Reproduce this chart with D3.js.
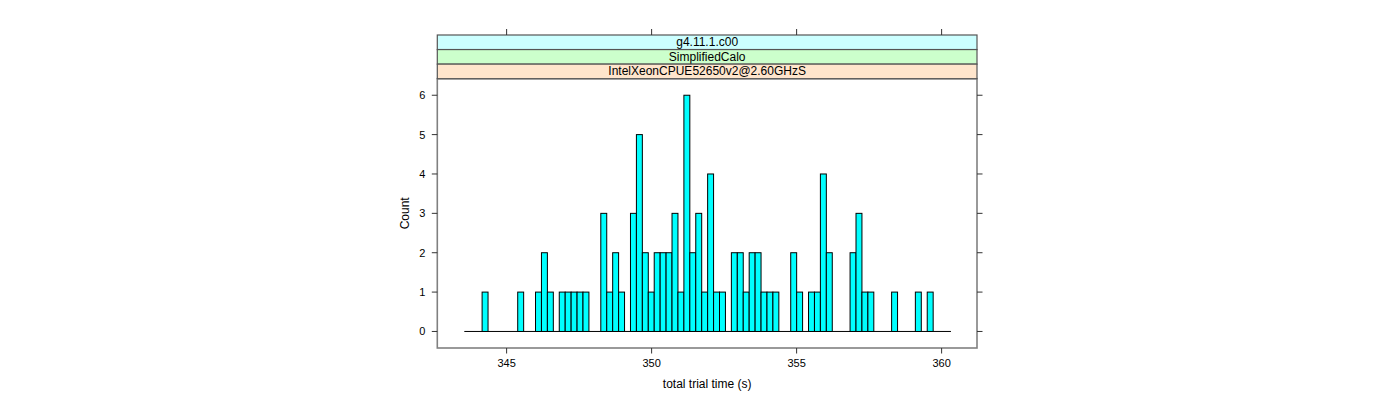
<!DOCTYPE html>
<html>
<head>
<meta charset="utf-8">
<script src="https://cdn.jsdelivr.net/npm/d3@7"></script>
<style>
  html, body { margin: 0; padding: 0; background: #fff; }
  svg { display: block; font-family: "Liberation Sans", Arial, Helvetica, sans-serif; }
</style>
</head>
<body>
<script>
// ---- data ----
const binStart = 343.541;      // first histogram break (s)
const binWidth = 0.20465;      // histogram bin width (s)
const counts = [
  0,0,0,1,0,0,0,0,0,1,
  0,0,1,2,1,0,1,1,1,1,
  1,0,0,3,1,2,1,0,3,5,
  2,1,2,2,2,3,1,6,2,3,
  1,4,1,1,0,2,2,1,2,2,
  1,1,1,0,0,2,1,0,1,1,
  4,2,0,0,0,2,3,1,1,0,
  0,0,1,0,0,0,1,0,1,0,
  0,0
];
const xTicks = [345, 350, 355, 360];
const yTicks = [0, 1, 2, 3, 4, 5, 6];
const stripLabels = ["g4.11.1.c00", "SimplifiedCalo", "IntelXeonCPUE52650v2@2.60GHzS"];
const stripColors = ["#ccffff", "#ccffcc", "#ffe5cc"];
const xTitle = "total trial time (s)";
const yTitle = "Count";
const xDomain = [342.61, 361.22];
const yDomain = [-0.42, 6.42];

// ---- layout ----
const W = 1400, H = 400;
const panel = { left: 437.3, right: 977, top: 78.7, bottom: 348 };
const stripTop = 35, stripH = (panel.top - stripTop) / stripLabels.length;

const svg = d3.select("body").append("svg").attr("width", W).attr("height", H);
svg.append("rect").attr("width", W).attr("height", H).attr("fill", "#fff");

const x = d3.scaleLinear().domain(xDomain).range([panel.left, panel.right]);
const y = d3.scaleLinear().domain(yDomain).range([panel.bottom, panel.top]);

const bins = counts.map((c, i) => ({ x0: binStart + i * binWidth, x1: binStart + (i + 1) * binWidth, n: c }));

// baseline (zero-height bars)
svg.append("line")
  .attr("x1", x(bins[0].x0)).attr("x2", x(bins[bins.length - 1].x1))
  .attr("y1", y(0)).attr("y2", y(0))
  .attr("stroke", "#000").attr("stroke-width", 1);

// bars
svg.append("g").selectAll("rect")
  .data(bins.filter(d => d.n > 0))
  .join("rect")
  .attr("x", d => x(d.x0))
  .attr("width", d => x(d.x1) - x(d.x0))
  .attr("y", d => y(d.n))
  .attr("height", d => y(0) - y(d.n))
  .attr("fill", "#00ffff")
  .attr("stroke", "#000")
  .attr("stroke-width", 1);

// panel border
svg.append("rect")
  .attr("x", panel.left).attr("y", panel.top)
  .attr("width", panel.right - panel.left).attr("height", panel.bottom - panel.top)
  .attr("fill", "none").attr("stroke", "#808080").attr("stroke-width", 1.6);

// strips (top = outermost)
stripLabels.forEach((lab, i) => {
  const yy = stripTop + i * stripH;
  svg.append("rect")
    .attr("x", panel.left).attr("y", yy)
    .attr("width", panel.right - panel.left).attr("height", stripH)
    .attr("fill", stripColors[i]).attr("stroke", "#555").attr("stroke-width", 1.2);
  svg.append("text")
    .attr("x", (panel.left + panel.right) / 2).attr("y", yy + stripH / 2)
    .attr("text-anchor", "middle").attr("dominant-baseline", "central")
    .attr("font-size", 12).attr("fill", "#000")
    .text(lab);
});

// axes
const axisColor = "#333";
// bottom
const bottomG = svg.append("g");
xTicks.forEach(t => {
  bottomG.append("line").attr("x1", x(t)).attr("x2", x(t)).attr("y1", panel.bottom).attr("y2", panel.bottom + 5.5)
    .attr("stroke", axisColor);
  bottomG.append("text").attr("x", x(t)).attr("y", panel.bottom + 18.5)
    .attr("text-anchor", "middle").attr("font-size", 11).text(t);
  // top ticks (above strips)
  bottomG.append("line").attr("x1", x(t)).attr("x2", x(t)).attr("y1", stripTop).attr("y2", stripTop - 6)
    .attr("stroke", axisColor);
});
// left & right
yTicks.forEach(t => {
  svg.append("line").attr("x1", panel.left).attr("x2", panel.left - 5.5).attr("y1", y(t)).attr("y2", y(t))
    .attr("stroke", axisColor);
  svg.append("text").attr("x", panel.left - 12).attr("y", y(t)).attr("dominant-baseline", "central")
    .attr("text-anchor", "end").attr("font-size", 11).text(t);
  svg.append("line").attr("x1", panel.right).attr("x2", panel.right + 5.5).attr("y1", y(t)).attr("y2", y(t))
    .attr("stroke", axisColor);
});

// titles
svg.append("text").attr("x", (panel.left + panel.right) / 2).attr("y", 388)
  .attr("text-anchor", "middle").attr("font-size", 12).text(xTitle);
svg.append("text")
  .attr("transform", `translate(409,${(panel.top + panel.bottom) / 2}) rotate(-90)`)
  .attr("text-anchor", "middle").attr("font-size", 12).text(yTitle);
</script>
</body>
</html>
